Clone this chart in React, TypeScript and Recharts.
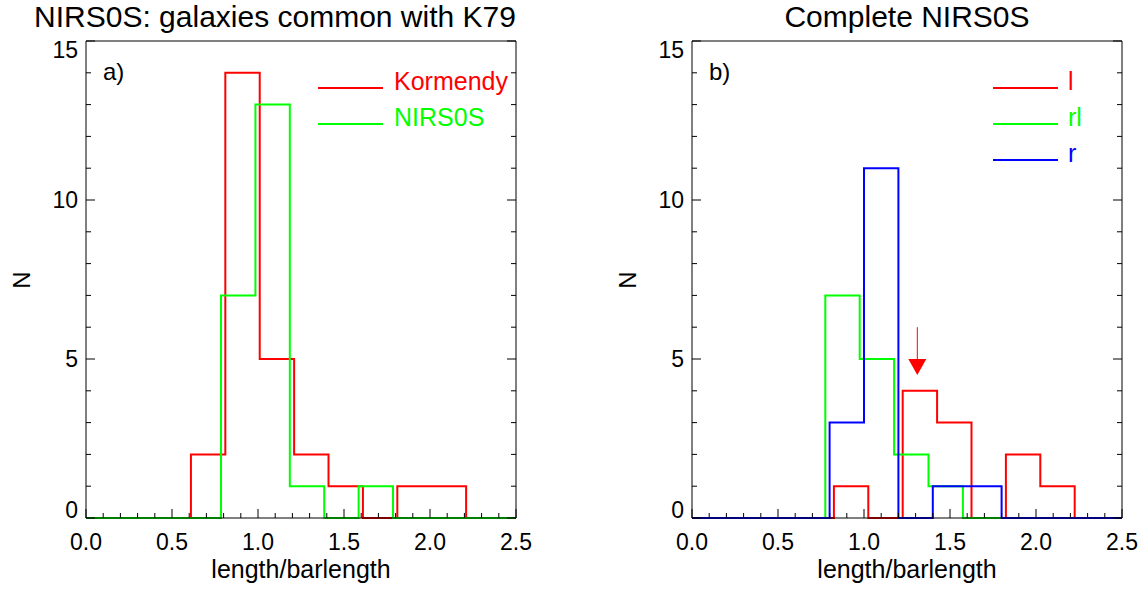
import {
  ComposedChart,
  Line,
  XAxis,
  YAxis,
  ReferenceLine,
  ReferenceDot,
} from "recharts";

// ─── Data ─────────────────────────────────────────────────────────────────────

// panel a) — galaxies common with K79
const kormendyEdges = [0.61, 0.81, 1.01, 1.21, 1.41, 1.61, 1.81, 2.01, 2.21];
const kormendyCounts = [2, 14, 5, 2, 1, 0, 1, 1];
const nirsEdges = [0.785, 0.985, 1.185, 1.385, 1.585, 1.785];
const nirsCounts = [7, 13, 1, 0, 1];

// panel b) — complete NIRS0S
const lEdges = [0.825, 1.025, 1.225, 1.425, 1.625, 1.825, 2.025, 2.225];
const lCounts = [1, 0, 4, 3, 0, 2, 1];
const rlEdges = [0.775, 0.975, 1.175, 1.375, 1.575];
const rlCounts = [7, 5, 2, 1];
const rEdges = [0.8, 1.0, 1.2, 1.4, 1.6, 1.8];
const rCounts = [3, 11, 0, 1, 1];

// mean marker in panel b)
const arrowX = 1.31;
const arrowFrom = 6;
const arrowHead = 5;

// axes
const xTicks = [
  0, 0.1, 0.2, 0.3, 0.4, 0.5, 0.6, 0.7, 0.8, 0.9, 1.0, 1.1, 1.2, 1.3, 1.4,
  1.5, 1.6, 1.7, 1.8, 1.9, 2.0, 2.1, 2.2, 2.3, 2.4, 2.5,
];
const yTicks = [0, 1, 2, 3, 4, 5, 6, 7, 8, 9, 10, 11, 12, 13, 14, 15];
const xDomain: [number, number] = [0, 2.5];
const yDomain: [number, number] = [0, 15];

const FONT = '"Liberation Sans", Arial, Helvetica, sans-serif';
const RED = "#ff0000";
const GREEN = "#00ff00";
const BLUE = "#0000ff";

// histogram outline: flat at 0, step per bin, back to 0
function steps(edges: number[], counts: number[]) {
  const pts = [{ x: xDomain[0], y: 0 }];
  edges.forEach((e, i) => pts.push({ x: e, y: i < counts.length ? counts[i] : 0 }));
  pts.push({ x: xDomain[1], y: 0 });
  return pts;
}

const isMajorX = (v: number) => Math.abs(v * 2 - Math.round(v * 2)) < 1e-6;
const isMajorY = (v: number) => v % 5 === 0;

// ─── Ticks (IDL style: inward on all four sides) ──────────────────────────────

function BottomTick({ x, y, payload }: any) {
  const major = isMajorX(payload.value);
  return (
    <g>
      <line x1={x} y1={y} x2={x} y2={y - (major ? 9 : 5)} stroke="#000" />
      {major && (
        <text x={x} y={y + 32} textAnchor="middle" fontSize={23} fontFamily={FONT} fill="#000">
          {payload.value.toFixed(1)}
        </text>
      )}
    </g>
  );
}

function TopTick({ x, y, payload }: any) {
  const major = isMajorX(payload.value);
  return <line x1={x} y1={y} x2={x} y2={y + (major ? 9 : 5)} stroke="#000" />;
}

function LeftTick({ x, y, payload }: any) {
  const v = payload.value;
  const major = isMajorY(v);
  const base = v === yDomain[0] ? y : v === yDomain[1] ? y + 17 : y + 8;
  return (
    <g>
      <line x1={x} y1={y} x2={x + (major ? 9 : 5)} y2={y} stroke="#000" />
      {major && (
        <text x={x - 8} y={base} textAnchor="end" fontSize={23} fontFamily={FONT} fill="#000">
          {v}
        </text>
      )}
    </g>
  );
}

function RightTick({ x, y, payload }: any) {
  const major = isMajorY(payload.value);
  return <line x1={x} y1={y} x2={x - (major ? 9 : 5)} y2={y} stroke="#000" />;
}

function ArrowHead({ cx, cy }: any) {
  return <polygon points={`${cx - 9},${cy} ${cx + 9},${cy} ${cx},${cy + 16}`} fill={RED} />;
}

// ─── Panel ────────────────────────────────────────────────────────────────────

type Series = { name: string; color: string; points: { x: number; y: number }[] };

const axisCommon = {
  tickSize: 0,
  tickMargin: 0,
  tickLine: false,
  interval: 0 as const,
  axisLine: { stroke: "#000", strokeWidth: 1 },
};

function Panel({ width, margin, series, arrow }: {
  width: number;
  margin: { top: number; right: number; bottom: number; left: number };
  series: Series[];
  arrow?: boolean;
}) {
  return (
    <ComposedChart width={width} height={589} margin={margin}>
      <XAxis
        xAxisId="b"
        type="number"
        dataKey="x"
        domain={xDomain}
        ticks={xTicks}
        height={1}
        {...axisCommon}
        tick={(p: any) => <BottomTick {...p} />}
      />
      <XAxis
        xAxisId="t"
        orientation="top"
        type="number"
        domain={xDomain}
        allowDataOverflow
        ticks={xTicks}
        height={1}
        {...axisCommon}
        tick={(p: any) => <TopTick {...p} />}
      />
      <YAxis
        yAxisId="l"
        type="number"
        domain={yDomain}
        ticks={yTicks}
        width={1}
        {...axisCommon}
        tick={(p: any) => <LeftTick {...p} />}
      />
      <YAxis
        yAxisId="r"
        orientation="right"
        type="number"
        domain={yDomain}
        allowDataOverflow
        ticks={yTicks}
        width={1}
        {...axisCommon}
        tick={(p: any) => <RightTick {...p} />}
      />
      {series.map((s) => (
        <Line
          key={s.name}
          xAxisId="b"
          yAxisId="l"
          data={s.points}
          dataKey="y"
          type="stepAfter"
          stroke={s.color}
          strokeWidth={2}
          dot={false}
          activeDot={false}
          isAnimationActive={false}
        />
      ))}
      {arrow && (
        <ReferenceLine
          xAxisId="b"
          yAxisId="l"
          segment={[{ x: arrowX, y: arrowFrom }, { x: arrowX, y: arrowHead }]}
          stroke={RED}
          strokeWidth={1}
        />
      )}
      {arrow && (
        <ReferenceDot
          xAxisId="b"
          yAxisId="l"
          x={arrowX}
          y={arrowHead}
          shape={(p: any) => <ArrowHead {...p} />}
        />
      )}
    </ComposedChart>
  );
}

// ─── Legend / titles overlay ──────────────────────────────────────────────────

function LegendRow({ x1, x2, y, color, label, tx }: {
  x1: number; x2: number; y: number; color: string; label: string; tx: number;
}) {
  return (
    <g>
      <line x1={x1} y1={y} x2={x2} y2={y} stroke={color} strokeWidth={2} />
      <text x={tx} y={y + 2} fontSize={25} fontFamily={FONT} fill={color}>{label}</text>
    </g>
  );
}

export default function App() {
  const leftSeries: Series[] = [
    { name: "Kormendy", color: RED, points: steps(kormendyEdges, kormendyCounts) },
    { name: "NIRS0S", color: GREEN, points: steps(nirsEdges, nirsCounts) },
  ];
  const rightSeries: Series[] = [
    { name: "l", color: RED, points: steps(lEdges, lCounts) },
    { name: "rl", color: GREEN, points: steps(rlEdges, rlCounts) },
    { name: "r", color: BLUE, points: steps(rEdges, rCounts) },
  ];

  return (
    <div style={{ position: "absolute", left: 0, top: 0, width: 1143, height: 589, background: "#fff" }}>
      <div style={{ position: "absolute", left: 0, top: 0 }}>
        <Panel width={560} margin={{ top: 40, right: 43, bottom: 70, left: 85 }} series={leftSeries} />
      </div>
      <div style={{ position: "absolute", left: 560, top: 0 }}>
        <Panel width={583} margin={{ top: 40, right: 20, bottom: 70, left: 131 }} series={rightSeries} arrow />
      </div>

      <svg
        width={1143}
        height={589}
        style={{ position: "absolute", left: 0, top: 0, pointerEvents: "none" }}
      >
        {/* titles */}
        <text x={275} y={27} textAnchor="middle" fontSize={30} fontFamily={FONT}>
          NIRS0S: galaxies common with K79
        </text>
        <text x={907} y={27} textAnchor="middle" fontSize={30} fontFamily={FONT}>
          Complete NIRS0S
        </text>

        {/* panel labels */}
        <text x={103} y={80} fontSize={24} fontFamily={FONT}>a)</text>
        <text x={709} y={80} fontSize={24} fontFamily={FONT}>b)</text>

        {/* axis titles */}
        <text x={301} y={578} textAnchor="middle" fontSize={25} fontFamily={FONT}>length/barlength</text>
        <text x={907} y={578} textAnchor="middle" fontSize={25} fontFamily={FONT}>length/barlength</text>
        <text x={30} y={280} textAnchor="middle" fontSize={24} fontFamily={FONT} transform="rotate(-90 30 280)">N</text>
        <text x={636} y={280} textAnchor="middle" fontSize={24} fontFamily={FONT} transform="rotate(-90 636 280)">N</text>

        {/* legends */}
        <LegendRow x1={318} x2={383} y={88} color={RED} label="Kormendy" tx={394} />
        <LegendRow x1={318} x2={383} y={124} color={GREEN} label="NIRS0S" tx={394} />
        <LegendRow x1={993} x2={1058} y={88} color={RED} label="l" tx={1068} />
        <LegendRow x1={993} x2={1058} y={124} color={GREEN} label="rl" tx={1068} />
        <LegendRow x1={993} x2={1058} y={160} color={BLUE} label="r" tx={1068} />
      </svg>
    </div>
  );
}
